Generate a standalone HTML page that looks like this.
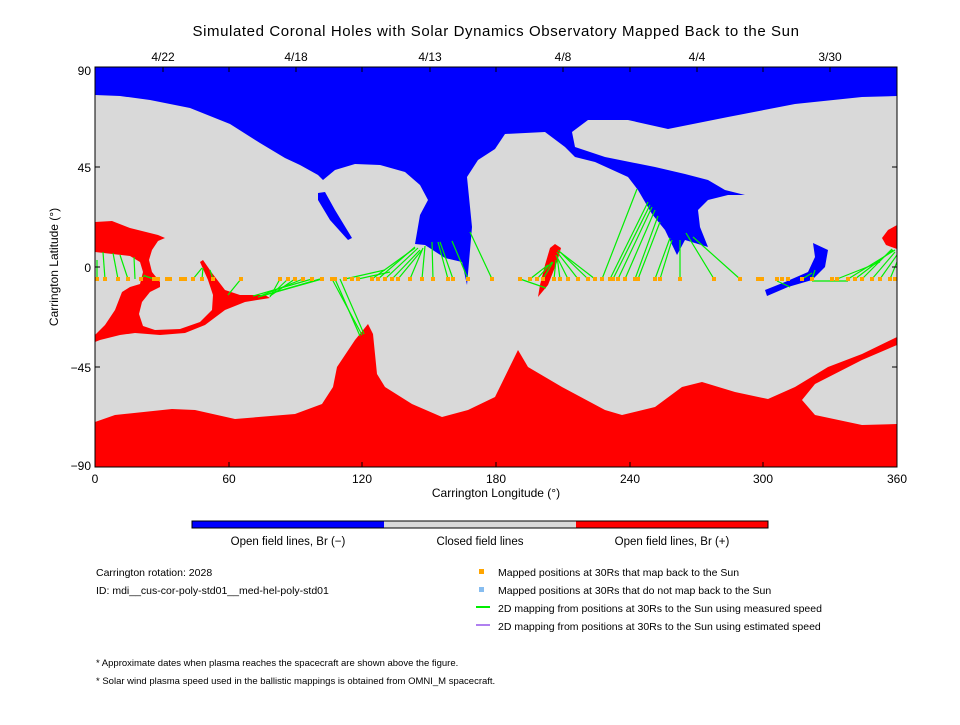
<!DOCTYPE html>
<html><head><meta charset="utf-8"><style>
body{margin:0;background:#fff;width:960px;height:720px;overflow:hidden;font-family:"Liberation Sans",sans-serif}
svg text{font-family:"Liberation Sans",sans-serif;fill:#000}
</style></head><body>
<svg width="960" height="720" viewBox="0 0 960 720" xmlns="http://www.w3.org/2000/svg">
<rect width="960" height="720" fill="#fff"/>
<text x="496" y="36" font-size="15" text-anchor="middle" letter-spacing="0.6">Simulated Coronal Holes with Solar Dynamics Observatory Mapped Back to the Sun</text>
<g font-size="12" text-anchor="middle">
<text x="163" y="61">4/22</text><text x="296" y="61">4/18</text><text x="430" y="61">4/13</text><text x="563" y="61">4/8</text><text x="697" y="61">4/4</text><text x="830" y="61">3/30</text>
</g>
<defs><clipPath id="c"><rect x="95" y="67" width="802" height="400"/></clipPath></defs>
<g clip-path="url(#c)">
<rect x="95" y="67" width="802" height="400" fill="#d9d9d9"/>
<path fill="#0000ff" d="M95,67 L897,67 L897,96 L862,97 L795,104 L728,117 L668,129 L628,120 L588,120 L572,132 L575,147 L605,157 L655,167 L685,174 L708,180 L725,190 L745,195 L728,195 L708,200 L698,210 L700,227 L708,247 L685,240 L677,255 L665,230 L652,214 L638,190 L628,177 L595,162 L575,157 L565,147 L545,132 L505,134 L495,149 L478,160 L467,177 L472,227 L467,285 L462,262 L445,258 L425,245 L415,244 L420,215 L428,200 L420,185 L405,172 L380,165 L355,164 L335,170 L323,180 L318,175 L300,165 L285,158 L260,143 L230,124 L190,108 L150,100 L120,96 L95,95 Z"/>
<path fill="#0000ff" d="M318,193 L325,192 L335,210 L352,238 L348,240 L330,220 L318,200 Z"/>
<path fill="#0000ff" d="M813,243 L828,250 L825,267 L812,280 L788,287 L767,296 L765,290 L785,282 L808,272 L815,257 Z"/>
<path fill="#ff0000" d="M95,422 L115,415 L172,409 L195,410 L235,419 L295,414 L322,404 L333,387 L337,367 L355,340 L368,324 L373,334 L377,374 L385,387 L412,404 L442,417 L468,410 L495,397 L518,350 L528,367 L562,387 L605,410 L622,415 L655,407 L682,387 L702,382 L735,392 L768,399 L795,387 L828,367 L862,354 L897,337 L897,345 L862,360 L815,384 L802,400 L815,415 L862,425 L897,424 L897,467 L95,467 Z"/>
<path fill="#ff0000" d="M95,222 L112,221 L130,228 L158,235 L165,238 L158,241 L152,250 L149,260 L152,272 L160,282 L160,287 L150,292 L142,302 L139,314 L143,326 L155,330 L180,329 L200,322 L212,310 L213,295 L208,280 L200,262 L203,260 L212,273 L225,290 L240,295 L265,295 L270,298 L245,302 L225,310 L205,325 L185,333 L160,335 L135,333 L120,335 L100,340 L95,342 L95,335 L105,325 L115,310 L122,292 L130,287 L140,284 L143,272 L140,262 L130,256 L95,252 Z"/>
<path fill="#ff0000" d="M555,244 L561,248 L557,262 L548,285 L538,297 L540,285 L545,265 L550,248 Z"/>
<path fill="#ff0000" d="M897,225 L888,230 L882,238 L886,245 L897,249 Z"/>
<g stroke="#00ee00" stroke-width="1.2">
<line x1="97" y1="279" x2="97" y2="260"/><line x1="105" y1="279" x2="103" y2="252"/><line x1="118" y1="279" x2="113" y2="253"/><line x1="128" y1="279" x2="120" y2="255"/><line x1="135" y1="279" x2="134" y2="257"/><line x1="141" y1="279" x2="145" y2="275"/>
<line x1="154" y1="279" x2="145" y2="276"/><line x1="193" y1="279" x2="202" y2="268"/><line x1="202" y1="279" x2="203" y2="268"/><line x1="213" y1="279" x2="210" y2="270"/><line x1="241" y1="279" x2="228" y2="295"/>
<line x1="312" y1="279" x2="253" y2="296"/><line x1="303" y1="279" x2="260" y2="296"/><line x1="295" y1="279" x2="270" y2="296"/><line x1="288" y1="279" x2="270" y2="296"/><line x1="320" y1="279" x2="265" y2="295"/><line x1="280" y1="279" x2="270" y2="297"/><line x1="322" y1="279" x2="258" y2="297"/>
<line x1="332" y1="279" x2="362" y2="335"/><line x1="335" y1="279" x2="360" y2="336"/><line x1="340" y1="279" x2="364" y2="334"/>
<line x1="345" y1="279" x2="385" y2="270"/><line x1="358" y1="279" x2="390" y2="272"/><line x1="372" y1="279" x2="415" y2="248"/><line x1="378" y1="279" x2="415" y2="247"/><line x1="385" y1="279" x2="418" y2="248"/><line x1="392" y1="279" x2="420" y2="250"/><line x1="398" y1="279" x2="422" y2="250"/><line x1="410" y1="279" x2="423" y2="248"/><line x1="422" y1="279" x2="425" y2="246"/><line x1="433" y1="279" x2="432" y2="242"/><line x1="448" y1="279" x2="438" y2="242"/><line x1="453" y1="279" x2="440" y2="242"/><line x1="468" y1="279" x2="452" y2="241"/><line x1="492" y1="279" x2="470" y2="232"/>
<line x1="520" y1="279" x2="546" y2="288"/><line x1="530" y1="279" x2="548" y2="265"/><line x1="537" y1="279" x2="552" y2="262"/><line x1="543" y1="279" x2="553" y2="262"/><line x1="554" y1="279" x2="556" y2="260"/><line x1="560" y1="279" x2="557" y2="256"/><line x1="568" y1="279" x2="556" y2="255"/><line x1="578" y1="279" x2="557" y2="252"/><line x1="588" y1="279" x2="558" y2="250"/><line x1="595" y1="279" x2="560" y2="252"/>
<line x1="602" y1="279" x2="637" y2="189"/><line x1="610" y1="279" x2="648" y2="202"/><line x1="613" y1="279" x2="650" y2="205"/><line x1="618" y1="279" x2="652" y2="207"/><line x1="625" y1="279" x2="655" y2="210"/><line x1="635" y1="279" x2="658" y2="216"/><line x1="638" y1="279" x2="660" y2="222"/><line x1="655" y1="279" x2="670" y2="238"/><line x1="660" y1="279" x2="672" y2="240"/><line x1="680" y1="279" x2="680" y2="240"/><line x1="714" y1="279" x2="686" y2="233"/><line x1="740" y1="279" x2="693" y2="237"/>
<line x1="777" y1="281" x2="790" y2="287"/><line x1="802" y1="279" x2="812" y2="273"/><line x1="812" y1="279" x2="815" y2="270"/><line x1="812" y1="281" x2="848" y2="281"/>
<line x1="848" y1="279" x2="895" y2="250"/><line x1="855" y1="279" x2="893" y2="250"/><line x1="862" y1="279" x2="892" y2="249"/><line x1="872" y1="279" x2="895" y2="252"/><line x1="880" y1="279" x2="897" y2="255"/><line x1="890" y1="279" x2="897" y2="262"/><line x1="837" y1="279" x2="880" y2="262"/>
</g>
<g fill="#ffa500">
<path d="M95,277h4v4h-4zM103,277h4v4h-4zM116,277h4v4h-4zM126,277h4v4h-4zM139,277h4v4h-4zM152,277h4v4h-4zM156,277h4v4h-4zM165,277h4v4h-4zM168,277h4v4h-4zM179,277h4v4h-4zM183,277h4v4h-4zM191,277h4v4h-4zM200,277h4v4h-4zM211,277h4v4h-4zM239,277h4v4h-4zM278,277h4v4h-4zM286,277h4v4h-4zM293,277h4v4h-4zM301,277h4v4h-4zM310,277h4v4h-4zM320,277h4v4h-4zM330,277h4v4h-4zM333,277h4v4h-4zM343,277h4v4h-4zM350,277h4v4h-4zM356,277h4v4h-4zM370,277h4v4h-4zM376,277h4v4h-4zM383,277h4v4h-4zM390,277h4v4h-4zM396,277h4v4h-4zM408,277h4v4h-4zM420,277h4v4h-4zM431,277h4v4h-4zM446,277h4v4h-4zM451,277h4v4h-4zM466,277h4v4h-4zM490,277h4v4h-4z"/>
<path d="M518,277h4v4h-4zM528,277h4v4h-4zM535,277h4v4h-4zM541,277h4v4h-4zM552,277h4v4h-4zM558,277h4v4h-4zM566,277h4v4h-4zM576,277h4v4h-4zM586,277h4v4h-4zM593,277h4v4h-4zM600,277h4v4h-4zM608,277h4v4h-4zM611,277h4v4h-4zM616,277h4v4h-4zM623,277h4v4h-4zM633,277h4v4h-4zM636,277h4v4h-4zM653,277h4v4h-4zM658,277h4v4h-4zM678,277h4v4h-4zM712,277h4v4h-4zM738,277h4v4h-4zM756,277h4v4h-4zM760,277h4v4h-4zM775,277h4v4h-4zM780,277h4v4h-4zM786,277h4v4h-4zM800,277h4v4h-4zM810,277h4v4h-4zM830,277h4v4h-4zM835,277h4v4h-4zM846,277h4v4h-4zM853,277h4v4h-4zM860,277h4v4h-4zM870,277h4v4h-4zM878,277h4v4h-4zM888,277h4v4h-4zM893,277h4v4h-4z"/>
</g>
</g>
<rect x="95" y="67" width="802" height="400" fill="none" stroke="#000" stroke-width="1"/>
<g stroke="#000" stroke-width="1">
<path d="M229,467v-5M362,467v-5M496,467v-5M630,467v-5M763,467v-5M229,67v5M362,67v5M496,67v5M630,67v5M763,67v5M163,67v5M296,67v5M430,67v5M563,67v5M697,67v5M830,67v5M95,167h5M95,267h5M95,367h5M897,167h-5M897,267h-5M897,367h-5"/>
</g>
<g font-size="12" text-anchor="end">
<text x="91" y="75">90</text><text x="91" y="172">45</text><text x="91" y="272">0</text><text x="91" y="372">−45</text><text x="91" y="470">−90</text>
</g>
<g font-size="12" text-anchor="middle">
<text x="95" y="483">0</text><text x="229" y="483">60</text><text x="362" y="483">120</text><text x="496" y="483">180</text><text x="630" y="483">240</text><text x="763" y="483">300</text><text x="897" y="483">360</text>
<text x="496" y="497">Carrington Longitude (°)</text>
</g>
<text transform="translate(58,267) rotate(-90)" font-size="12" text-anchor="middle">Carrington Latitude (°)</text>
<rect x="192" y="521" width="192" height="7" fill="#0000ff"/>
<rect x="384" y="521" width="192" height="7" fill="#d9d9d9"/>
<rect x="576" y="521" width="192" height="7" fill="#ff0000"/>
<rect x="192" y="521" width="576" height="7" fill="none" stroke="#000"/>
<g font-size="11.5" text-anchor="middle">
<text x="288" y="545">Open field lines, Br (−)</text><text x="480" y="545">Closed field lines</text><text x="672" y="545">Open field lines, Br (+)</text>
</g>
<g font-size="10.5">
<text x="96" y="576">Carrington rotation: 2028</text>
<text x="96" y="594">ID: mdi__cus-cor-poly-std01__med-hel-poly-std01</text>
<rect x="479" y="569" width="5" height="5" fill="#ffa500"/><text x="498" y="576">Mapped positions at 30Rs that map back to the Sun</text>
<rect x="479" y="587" width="5" height="5" fill="#87bdf0"/><text x="498" y="594">Mapped positions at 30Rs that do not map back to the Sun</text>
<rect x="476" y="606" width="14" height="2" fill="#00ee00"/><text x="498" y="612">2D mapping from positions at 30Rs to the Sun using measured speed</text>
<rect x="476" y="624" width="14" height="2" fill="#b080f0"/><text x="498" y="630">2D mapping from positions at 30Rs to the Sun using estimated speed</text>
</g>
<g font-size="9.5">
<text x="96" y="666">* Approximate dates when plasma reaches the spacecraft are shown above the figure.</text>
<text x="96" y="684">* Solar wind plasma speed used in the ballistic mappings is obtained from OMNI_M spacecraft.</text>
</g>
</svg>
</body></html>
